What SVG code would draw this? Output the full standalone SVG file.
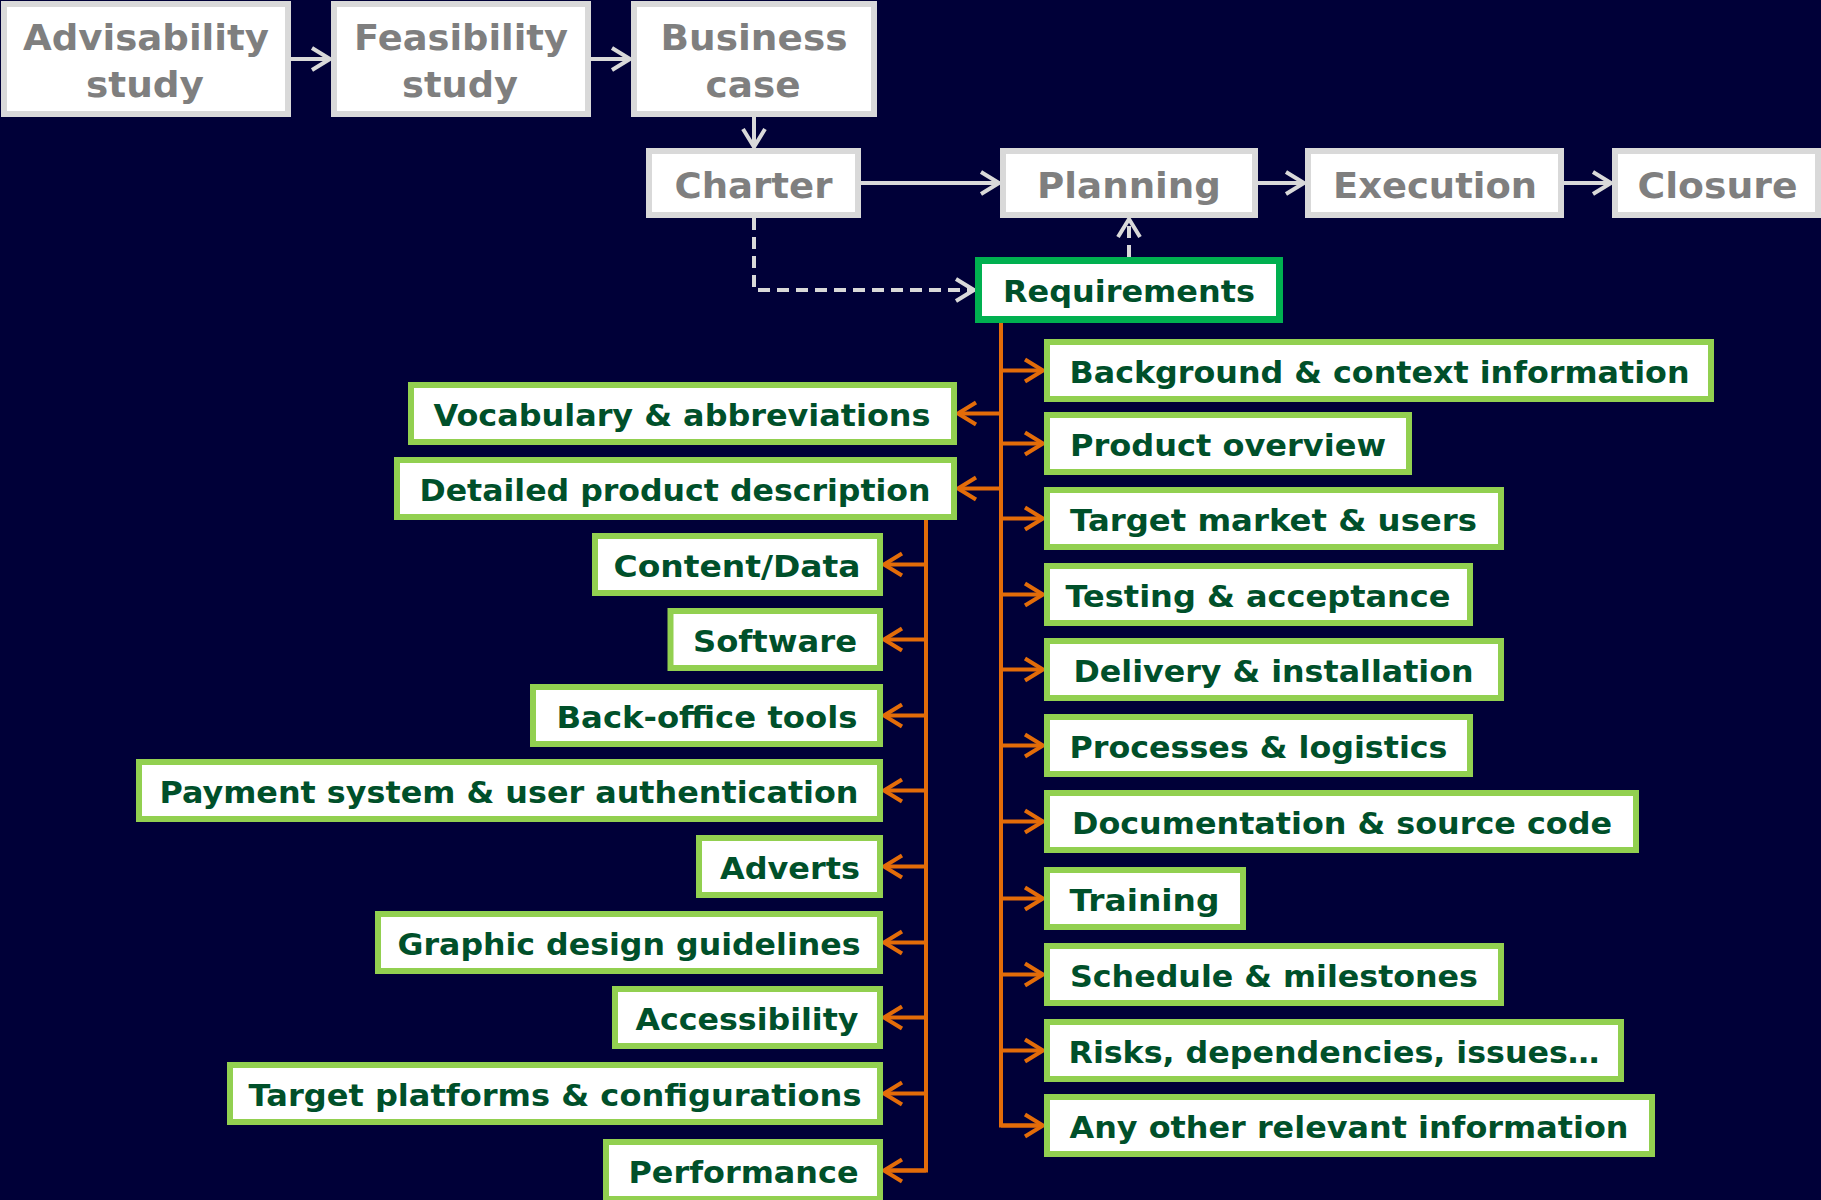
<svg xmlns="http://www.w3.org/2000/svg" width="1821" height="1200" viewBox="0 0 1821 1200">
<defs>
<style>
.bg{fill:#000038}
.top rect{fill:#ffffff;stroke:#d9d9d9;stroke-width:6}
.top text{fill:#7f7f7f;font-family:"DejaVu Sans","Verdana",sans-serif;font-weight:bold;font-size:36px;text-anchor:middle}
.req rect{fill:#ffffff;stroke:#00b050;stroke-width:7}
.item rect{fill:#ffffff;stroke:#92d050;stroke-width:6}
.req text,.item text{fill:#00502a;font-family:"DejaVu Sans","Verdana",sans-serif;font-weight:bold;font-size:31px;text-anchor:middle}
.gl{fill:none;stroke:#d9d9d9;stroke-width:4}
.gd{fill:none;stroke:#d9d9d9;stroke-width:4;stroke-dasharray:12 7}
.ol{fill:none;stroke:#e36c09;stroke-width:4}
</style>
<marker id="ag" viewBox="-22 -14 26 28" markerWidth="26" markerHeight="28" refX="0" refY="0" orient="auto" markerUnits="userSpaceOnUse">
<path d="M-18,-11 L0,0 L-18,11" fill="none" stroke="#d9d9d9" stroke-width="4"/>
</marker>
<marker id="ao" viewBox="-22 -14 26 28" markerWidth="26" markerHeight="28" refX="0" refY="0" orient="auto" markerUnits="userSpaceOnUse">
<path d="M-18,-11 L0,0 L-18,11" fill="none" stroke="#e36c09" stroke-width="4"/>
</marker>
</defs>
<rect class="bg" x="0" y="0" width="1821" height="1200"/>

<g id="connectors">
<line class="gl" x1="291" y1="59" x2="330" y2="59" marker-end="url(#ag)"/>
<line class="gl" x1="591" y1="59" x2="630" y2="59" marker-end="url(#ag)"/>
<line class="gl" x1="754" y1="117" x2="754" y2="147" marker-end="url(#ag)"/>
<line class="gl" x1="861" y1="183" x2="999" y2="183" marker-end="url(#ag)"/>
<line class="gl" x1="1258" y1="183" x2="1304" y2="183" marker-end="url(#ag)"/>
<line class="gl" x1="1564" y1="183" x2="1611" y2="183" marker-end="url(#ag)"/>
<path class="gd" d="M754,218 L754,290 L974,290" marker-end="url(#ag)"/>
<line class="gd" x1="1129" y1="257" x2="1129" y2="219" marker-end="url(#ag)"/>

<path class="ol" d="M1001,323 L1001,1125.5 L1043,1125.5"/>
<line class="ol" x1="1001" y1="370.5" x2="1043" y2="370.5" marker-end="url(#ao)"/>
<line class="ol" x1="1001" y1="443.5" x2="1043" y2="443.5" marker-end="url(#ao)"/>
<line class="ol" x1="1001" y1="518.5" x2="1043" y2="518.5" marker-end="url(#ao)"/>
<line class="ol" x1="1001" y1="594.5" x2="1043" y2="594.5" marker-end="url(#ao)"/>
<line class="ol" x1="1001" y1="669.5" x2="1043" y2="669.5" marker-end="url(#ao)"/>
<line class="ol" x1="1001" y1="745.5" x2="1043" y2="745.5" marker-end="url(#ao)"/>
<line class="ol" x1="1001" y1="821.5" x2="1043" y2="821.5" marker-end="url(#ao)"/>
<line class="ol" x1="1001" y1="898.5" x2="1043" y2="898.5" marker-end="url(#ao)"/>
<line class="ol" x1="1001" y1="974.5" x2="1043" y2="974.5" marker-end="url(#ao)"/>
<line class="ol" x1="1001" y1="1050.5" x2="1043" y2="1050.5" marker-end="url(#ao)"/>
<line class="ol" x1="1001" y1="1125.5" x2="1043" y2="1125.5" marker-end="url(#ao)"/>
<line class="ol" x1="1001" y1="413.5" x2="958" y2="413.5" marker-end="url(#ao)"/>
<line class="ol" x1="1001" y1="488.5" x2="958" y2="488.5" marker-end="url(#ao)"/>

<path class="ol" d="M926,520 L926,1170.5 L884,1170.5"/>
<line class="ol" x1="926" y1="564.5" x2="884" y2="564.5" marker-end="url(#ao)"/>
<line class="ol" x1="926" y1="639.5" x2="884" y2="639.5" marker-end="url(#ao)"/>
<line class="ol" x1="926" y1="715.5" x2="884" y2="715.5" marker-end="url(#ao)"/>
<line class="ol" x1="926" y1="790.5" x2="884" y2="790.5" marker-end="url(#ao)"/>
<line class="ol" x1="926" y1="866.5" x2="884" y2="866.5" marker-end="url(#ao)"/>
<line class="ol" x1="926" y1="942.5" x2="884" y2="942.5" marker-end="url(#ao)"/>
<line class="ol" x1="926" y1="1017.5" x2="884" y2="1017.5" marker-end="url(#ao)"/>
<line class="ol" x1="926" y1="1093.5" x2="884" y2="1093.5" marker-end="url(#ao)"/>
<line class="ol" x1="926" y1="1170.5" x2="884" y2="1170.5" marker-end="url(#ao)"/>
</g>

<g id="advisability" class="top"><rect x="4" y="4" width="284" height="110"/><text x="146" y="50" textLength="246" lengthAdjust="spacingAndGlyphs">Advisability</text><text x="145" y="97" textLength="118" lengthAdjust="spacingAndGlyphs">study</text></g>
<g id="feasibility" class="top"><rect x="334" y="4" width="254" height="110"/><text x="461" y="50" textLength="214" lengthAdjust="spacingAndGlyphs">Feasibility</text><text x="460" y="97" textLength="116" lengthAdjust="spacingAndGlyphs">study</text></g>
<g id="business" class="top"><rect x="634" y="4" width="240" height="110"/><text x="754" y="50" textLength="187" lengthAdjust="spacingAndGlyphs">Business</text><text x="753" y="97" textLength="95" lengthAdjust="spacingAndGlyphs">case</text></g>
<g id="charter" class="top"><rect x="649" y="151" width="209" height="64"/><text x="753.5" y="198" textLength="158" lengthAdjust="spacingAndGlyphs">Charter</text></g>
<g id="planning" class="top"><rect x="1003" y="151" width="252" height="64"/><text x="1129" y="198" textLength="184" lengthAdjust="spacingAndGlyphs">Planning</text></g>
<g id="execution" class="top"><rect x="1308" y="151" width="253" height="64"/><text x="1435" y="198" textLength="204" lengthAdjust="spacingAndGlyphs">Execution</text></g>
<g id="closure" class="top"><rect x="1615" y="151" width="203" height="64"/><text x="1717.5" y="198" textLength="160" lengthAdjust="spacingAndGlyphs">Closure</text></g>

<g id="requirements" class="req"><rect x="978.5" y="260.5" width="301" height="59"/><text x="1129" y="301.5" textLength="252" lengthAdjust="spacingAndGlyphs">Requirements</text></g>

<g id="background" class="item"><rect x="1047" y="342" width="664" height="57"/><text x="1379.5" y="382.5" textLength="620" lengthAdjust="spacingAndGlyphs">Background &amp; context information</text></g>
<g id="product-overview" class="item"><rect x="1047" y="415" width="362" height="57"/><text x="1228" y="455.5" textLength="316" lengthAdjust="spacingAndGlyphs">Product overview</text></g>
<g id="target-market" class="item"><rect x="1047" y="490" width="454" height="57"/><text x="1273.5" y="530.5" textLength="407" lengthAdjust="spacingAndGlyphs">Target market &amp; users</text></g>
<g id="testing" class="item"><rect x="1047" y="566" width="423" height="57"/><text x="1258" y="606.5" textLength="385" lengthAdjust="spacingAndGlyphs">Testing &amp; acceptance</text></g>
<g id="delivery" class="item"><rect x="1047" y="641" width="454" height="57"/><text x="1273.5" y="681.5" textLength="400" lengthAdjust="spacingAndGlyphs">Delivery &amp; installation</text></g>
<g id="processes" class="item"><rect x="1047" y="717" width="423" height="57"/><text x="1258.5" y="757.5" textLength="378" lengthAdjust="spacingAndGlyphs">Processes &amp; logistics</text></g>
<g id="documentation" class="item"><rect x="1047" y="793" width="589" height="57"/><text x="1342" y="833.5" textLength="540" lengthAdjust="spacingAndGlyphs">Documentation &amp; source code</text></g>
<g id="training" class="item"><rect x="1047" y="870" width="196" height="57"/><text x="1144.5" y="910.5" textLength="150" lengthAdjust="spacingAndGlyphs">Training</text></g>
<g id="schedule" class="item"><rect x="1047" y="946" width="454" height="57"/><text x="1274" y="986.5" textLength="408" lengthAdjust="spacingAndGlyphs">Schedule &amp; milestones</text></g>
<g id="risks" class="item"><rect x="1047" y="1022" width="574" height="57"/><text x="1334" y="1062.5" textLength="531" lengthAdjust="spacingAndGlyphs">Risks, dependencies, issues…</text></g>
<g id="any-other" class="item"><rect x="1047" y="1097" width="605" height="57"/><text x="1349" y="1137.5" textLength="559" lengthAdjust="spacingAndGlyphs">Any other relevant information</text></g>

<g id="vocabulary" class="item"><rect x="411" y="385" width="543" height="57"/><text x="682" y="425.5" textLength="497" lengthAdjust="spacingAndGlyphs">Vocabulary &amp; abbreviations</text></g>
<g id="detailed" class="item"><rect x="397" y="460" width="557" height="57"/><text x="675" y="500.5" textLength="511" lengthAdjust="spacingAndGlyphs">Detailed product description</text></g>

<g id="content-data" class="item"><rect x="595" y="536" width="285" height="57"/><text x="737" y="576.5" textLength="247" lengthAdjust="spacingAndGlyphs">Content/Data</text></g>
<g id="software" class="item"><rect x="670.5" y="611" width="209.5" height="57"/><text x="775" y="651.5" textLength="164" lengthAdjust="spacingAndGlyphs">Software</text></g>
<g id="back-office" class="item"><rect x="533" y="687" width="347" height="57"/><text x="707" y="727.5" textLength="301" lengthAdjust="spacingAndGlyphs">Back-office tools</text></g>
<g id="payment" class="item"><rect x="139" y="762" width="741" height="57"/><text x="509" y="802.5" textLength="699" lengthAdjust="spacingAndGlyphs">Payment system &amp; user authentication</text></g>
<g id="adverts" class="item"><rect x="699" y="838" width="181" height="57"/><text x="790" y="878.5" textLength="140" lengthAdjust="spacingAndGlyphs">Adverts</text></g>
<g id="graphic" class="item"><rect x="378" y="914" width="502" height="57"/><text x="629" y="954.5" textLength="463" lengthAdjust="spacingAndGlyphs">Graphic design guidelines</text></g>
<g id="accessibility" class="item"><rect x="615" y="989" width="265" height="57"/><text x="747" y="1029.5" textLength="223" lengthAdjust="spacingAndGlyphs">Accessibility</text></g>
<g id="target-platforms" class="item"><rect x="230" y="1065" width="650" height="57"/><text x="555" y="1105.5" textLength="613" lengthAdjust="spacingAndGlyphs">Target platforms &amp; configurations</text></g>
<g id="performance" class="item"><rect x="606" y="1142" width="274" height="57"/><text x="743.5" y="1182.5" textLength="230" lengthAdjust="spacingAndGlyphs">Performance</text></g>
</svg>
